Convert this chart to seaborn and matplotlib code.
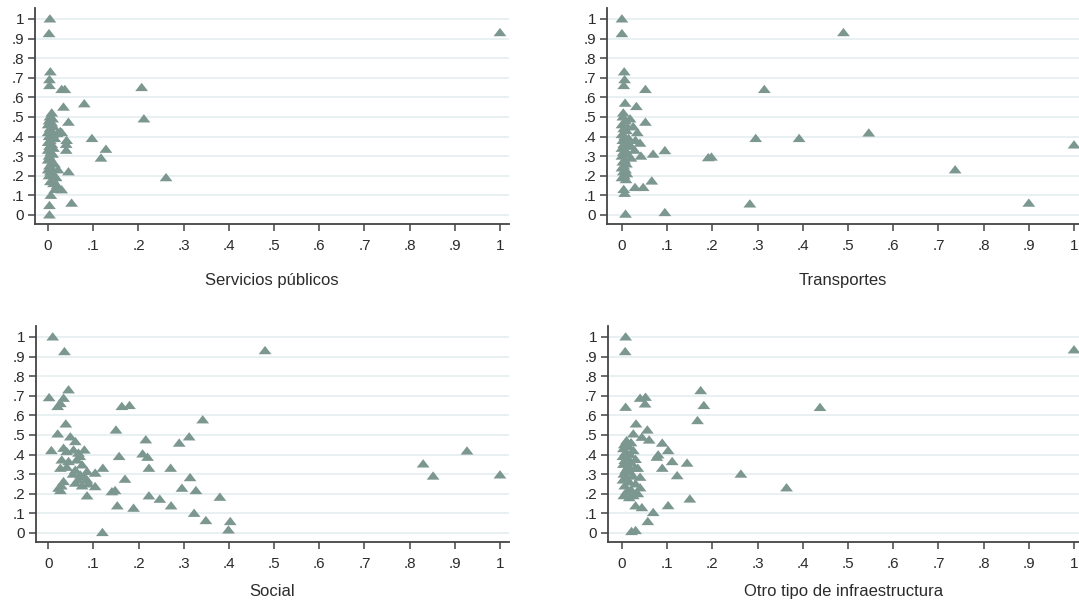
import numpy as np
import pandas as pd
import matplotlib
matplotlib.use("Agg")
import matplotlib.pyplot as plt
from matplotlib.path import Path
import seaborn as sns

# ---------------- data (x, y) ----------------
servicios = [
    (0.004, 1.0), (0.002, 0.925), (1.0, 0.93), (0.005, 0.73), (0.003, 0.69), (0.003, 0.66),
    (0.03, 0.64), (0.037, 0.64), (0.207, 0.65), (0.08, 0.567), (0.034, 0.55), (0.212, 0.49),
    (0.045, 0.473), (0.097, 0.39), (0.041, 0.38), (0.027, 0.425), (0.128, 0.335), (0.04, 0.36),
    (0.04, 0.33), (0.117, 0.29), (0.045, 0.22), (0.261, 0.19), (0.03, 0.128), (0.015, 0.13),
    (0.02, 0.15), (0.006, 0.10), (0.052, 0.06), (0.003, 0.048), (0.003, 0.0), (0.008, 0.52),
    (0.004, 0.50), (0.01, 0.49), (0.002, 0.48), (0.008, 0.47), (0.0, 0.46), (0.012, 0.45),
    (0.004, 0.44), (0.006, 0.43), (0.0, 0.42), (0.01, 0.41), (0.02, 0.415), (0.002, 0.40),
    (0.015, 0.39), (0.005, 0.38), (0.0, 0.37), (0.008, 0.36), (0.003, 0.35), (0.012, 0.34),
    (0.0, 0.33), (0.006, 0.32), (0.01, 0.31), (0.002, 0.30), (0.004, 0.29), (0.0, 0.28),
    (0.009, 0.27), (0.014, 0.26), (0.003, 0.25), (0.007, 0.24), (0.0, 0.23), (0.005, 0.22),
    (0.011, 0.21), (0.002, 0.20), (0.018, 0.19), (0.01, 0.18), (0.005, 0.17), (0.012, 0.16),
    (0.022, 0.23), (0.03, 0.42),
]

transportes = [
    (0.0, 1.0), (0.0, 0.925), (0.49, 0.93), (0.005, 0.73), (0.006, 0.69), (0.004, 0.66),
    (0.052, 0.64), (0.315, 0.64), (0.007, 0.57), (0.032, 0.553), (0.003, 0.52), (0.018, 0.49),
    (0.052, 0.473), (0.034, 0.42), (0.296, 0.39), (0.392, 0.39), (0.546, 0.418), (0.04, 0.366),
    (0.095, 0.328), (0.069, 0.31), (0.042, 0.30), (0.02, 0.29), (0.191, 0.292), (0.198, 0.295),
    (1.0, 0.357), (0.737, 0.23), (0.066, 0.173), (0.029, 0.14), (0.047, 0.14), (0.004, 0.13),
    (0.006, 0.11), (0.283, 0.056), (0.9, 0.06), (0.008, 0.004), (0.095, 0.012),
    (0.002, 0.50), (0.008, 0.48), (0.0, 0.46), (0.012, 0.45), (0.004, 0.44), (0.01, 0.43),
    (0.0, 0.41), (0.006, 0.40), (0.015, 0.39), (0.002, 0.38), (0.01, 0.37), (0.004, 0.36),
    (0.02, 0.35), (0.0, 0.34), (0.008, 0.33), (0.003, 0.32), (0.012, 0.31), (0.0, 0.30),
    (0.006, 0.28), (0.002, 0.27), (0.01, 0.26), (0.004, 0.25), (0.0, 0.24), (0.008, 0.23),
    (0.003, 0.22), (0.011, 0.21), (0.005, 0.20), (0.0, 0.19), (0.009, 0.18), (0.025, 0.45),
    (0.03, 0.38), (0.028, 0.33),
]

social = [
    (0.01, 1.0), (0.036, 0.925), (0.48, 0.93), (0.045, 0.73), (0.002, 0.69), (0.034, 0.687),
    (0.027, 0.66), (0.021, 0.645), (0.163, 0.645), (0.18, 0.65), (0.342, 0.577), (0.039, 0.556),
    (0.15, 0.525), (0.021, 0.505), (0.049, 0.49), (0.216, 0.475), (0.06, 0.466), (0.312, 0.49),
    (0.29, 0.458), (0.007, 0.42), (0.034, 0.432), (0.041, 0.415), (0.056, 0.423), (0.067, 0.407),
    (0.08, 0.423), (0.157, 0.39), (0.209, 0.403), (0.22, 0.386), (0.03, 0.372), (0.045, 0.364),
    (0.063, 0.372), (0.075, 0.347), (0.027, 0.33), (0.041, 0.335), (0.06, 0.32), (0.121, 0.33),
    (0.223, 0.33), (0.271, 0.33), (0.086, 0.313), (0.104, 0.305), (0.071, 0.296), (0.067, 0.27),
    (0.17, 0.274), (0.314, 0.282), (0.086, 0.27), (0.06, 0.254), (0.075, 0.24), (0.089, 0.25),
    (0.029, 0.24), (0.023, 0.228), (0.034, 0.262), (0.104, 0.236), (0.296, 0.228), (0.327, 0.216),
    (0.141, 0.21), (0.148, 0.216), (0.027, 0.216), (0.086, 0.189), (0.223, 0.189), (0.247, 0.172),
    (0.153, 0.138), (0.189, 0.126), (0.272, 0.138), (0.323, 0.10), (0.349, 0.063), (0.403, 0.058),
    (0.399, 0.015), (0.12, 0.002), (0.38, 0.182), (0.83, 0.352), (0.852, 0.29), (0.927, 0.418),
    (1.0, 0.296), (0.07, 0.39), (0.055, 0.30), (0.08, 0.285),
]

otro = [
    (0.008, 1.0), (0.007, 0.925), (1.0, 0.934), (0.174, 0.726), (0.04, 0.687), (0.052, 0.692),
    (0.051, 0.658), (0.181, 0.65), (0.008, 0.641), (0.438, 0.64), (0.167, 0.573), (0.031, 0.556),
    (0.056, 0.525), (0.025, 0.505), (0.044, 0.488), (0.06, 0.474), (0.089, 0.458), (0.102, 0.42),
    (0.08, 0.398), (0.077, 0.386), (0.111, 0.364), (0.144, 0.356), (0.089, 0.33), (0.122, 0.292),
    (0.263, 0.30), (0.364, 0.23), (0.04, 0.284), (0.04, 0.23), (0.035, 0.20), (0.15, 0.173),
    (0.102, 0.139), (0.03, 0.138), (0.044, 0.129), (0.069, 0.104), (0.057, 0.058), (0.021, 0.007),
    (0.03, 0.012), (0.01, 0.47), (0.02, 0.46), (0.005, 0.45), (0.015, 0.44), (0.003, 0.43),
    (0.025, 0.42), (0.008, 0.41), (0.018, 0.40), (0.002, 0.39), (0.012, 0.38), (0.03, 0.375),
    (0.006, 0.37), (0.02, 0.36), (0.003, 0.35), (0.014, 0.34), (0.028, 0.33), (0.008, 0.32),
    (0.018, 0.31), (0.004, 0.30), (0.024, 0.29), (0.01, 0.28), (0.002, 0.27), (0.016, 0.26),
    (0.03, 0.25), (0.006, 0.24), (0.02, 0.22), (0.01, 0.21), (0.004, 0.19), (0.016, 0.18),
    (0.025, 0.19), (0.035, 0.33),
]

panel_titles = ["Servicios públicos", "Transportes", "Social", "Otro tipo de infraestructura"]
panel_data = [servicios, transportes, social, otro]
tick_values = [0, .1, .2, .3, .4, .5, .6, .7, .8, .9, 1]
tick_labels = ["0", ".1", ".2", ".3", ".4", ".5", ".6", ".7", ".8", ".9", "1"]

# ---------------- style ----------------
sns.set_theme(style="white")
plt.rcParams["font.family"] = ["Liberation Sans", "DejaVu Sans"]

W, H = 1079, 602
fig = plt.figure(figsize=(W / 100, H / 100), dpi=100)

# axes boxes in pixels: (left, top, right, bottom)
boxes = [(35, 8, 509, 224), (607, 8, 1079, 224), (36, 326, 509, 542), (608, 326, 1079, 542)]
xlims = [(-0.029, 1.020), (-0.033, 1.011), (-0.027, 1.020), (-0.031, 1.011)]
label_pads = [14, 14, 9, 9]

tri = Path([(-1, -0.55), (1, -0.55), (0, 0.75), (-1, -0.55)],
           [Path.MOVETO, Path.LINETO, Path.LINETO, Path.CLOSEPOLY])

marker_color = "#7b978f"
text_color = "#2b2b2b"
grid_color = "#e2ecee"

for (l, t, r, b), pts, title, xl, lp in zip(boxes, panel_data, panel_titles, xlims, label_pads):
    ax = fig.add_axes([l / W, (H - b) / H, (r - l) / W, (b - t) / H])
    df = pd.DataFrame(pts, columns=["x", "y"])
    ax.set_axisbelow(True)
    ax.yaxis.grid(True, color=grid_color, linewidth=1.1)
    ax.xaxis.grid(False)
    sns.scatterplot(data=df, x="x", y="y", ax=ax, marker=tri, s=85,
                    color=marker_color, linewidth=0, edgecolor="none", legend=False)
    ax.set_xlim(*xl)
    ax.set_ylim(-0.046, 1.056)
    ax.set_xticks(tick_values)
    ax.set_xticklabels(tick_labels)
    ax.set_yticks(tick_values)
    ax.set_yticklabels(tick_labels)
    ax.tick_params(axis="both", which="major", direction="out", length=5, width=1.1,
                   color="#444444", labelsize=11, labelcolor=text_color,
                   bottom=True, left=True)
    ax.tick_params(axis="x", pad=6)
    ax.tick_params(axis="y", pad=3)
    for side in ["top", "right"]:
        ax.spines[side].set_visible(False)
    for side in ["left", "bottom"]:
        ax.spines[side].set_color("#444444")
        ax.spines[side].set_linewidth(1.3)
    ax.set_xlabel(title, fontsize=12, color=text_color, labelpad=lp)
    ax.set_ylabel("")
    ax.set_facecolor("white")

fig.savefig("out.png", dpi=100, facecolor="white")
